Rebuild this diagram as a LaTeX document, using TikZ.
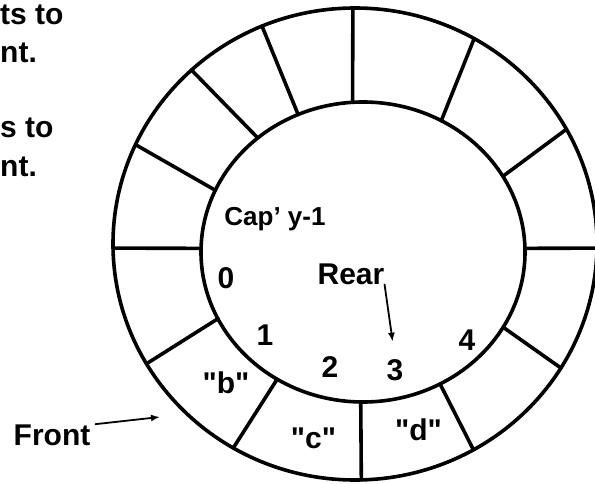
\documentclass[tikz,border=0pt]{standalone}
\usepackage{fontspec}
\setmainfont{Liberation Sans}[Ligatures=TeXOff]
\usepackage{tikz}
\usetikzlibrary{arrows.meta}
\tikzset{>={Latex[length=9pt,width=7pt]}}

\begin{document}
\begin{tikzpicture}[x=1pt, y=1pt,
                    line cap=round, line join=round,
                    ring/.style={black, line width=3.6pt},
                    ptr/.style={black, line width=1.8pt, ->},
                    lbl/.style={inner sep=0pt, anchor=base,
                                font=\fontsize{30}{36}\selectfont\bfseries},
                    note/.style={lbl, anchor=base west}]
  \clip (0,0) rectangle (595,483);
  \def\oX{355} \def\oY{239} \def\oRx{242} \def\oRy{236} % outer ring
  \def\iX{363} \def\iY{231} \def\iRx{162} \def\iRy{150} % inner ring

  % ring
  \draw[ring] (\oX,\oY) ellipse [x radius=\oRx pt, y radius=\oRy pt];
  \draw[ring] (\iX,\iY) ellipse [x radius=\iRx pt, y radius=\iRy pt];
  % cell walls, angle on outer / inner ring
  \foreach \a/\b in {90.5/93.7, 60.5/61.1, 29.1/30.3, -1/1.4, -31.7/-30.1,
                     -60.7/-61.6, -88.5/-90.8, -120.2/-122, -149.5/-153.6,
                     181/178.6, 155.1/155.7, 132.5/130.5, 112.6/113.6}{
    \draw[ring] ([shift={(\oX,\oY)}]\a:\oRx pt and \oRy pt)
             -- ([shift={(\iX,\iY)}]\b:\iRx pt and \iRy pt);
  }

  % text on the left
  \node[note] (note1) at (0,458) {ts to};
  \node[note] (note2) at (0,420) {nt.};
  \node[note] (note3) at (0,345) {s to};
  \node[note] (note4) at (0,306) {nt.};

  % indices
  \node[lbl, font=\fontsize{26}{31}\selectfont\bfseries] (cap) at (275,258) {Cap’ y-1};
  \node[lbl] (i0) at (226,195) {0};
  \node[lbl] (i1) at (265,138) {1};
  \node[lbl] (i2) at (330,106) {2};
  \node[lbl] (i3) at (395,103) {3};
  \node[lbl] (i4) at (467,133) {4};

  % stored values
  \node[lbl] (vb) at (226,90) {"b"};
  \node[lbl] (vc) at (313.5,35) {"c"};
  \node[lbl] (vd) at (418.5,43) {"d"};

  % pointers
  \node[lbl] (rear) at (351,199) {Rear};
  \node[lbl] (front) at (52,38) {Front};
  \coordinate (rearptr) at (392.7,141.3);
  \coordinate (frontptr) at (160,66);
  \draw[ptr] (rear.south east) -- (rearptr);
  \draw[ptr] ([xshift=5pt]front.north east) -- (frontptr);
\end{tikzpicture}
\end{document}
